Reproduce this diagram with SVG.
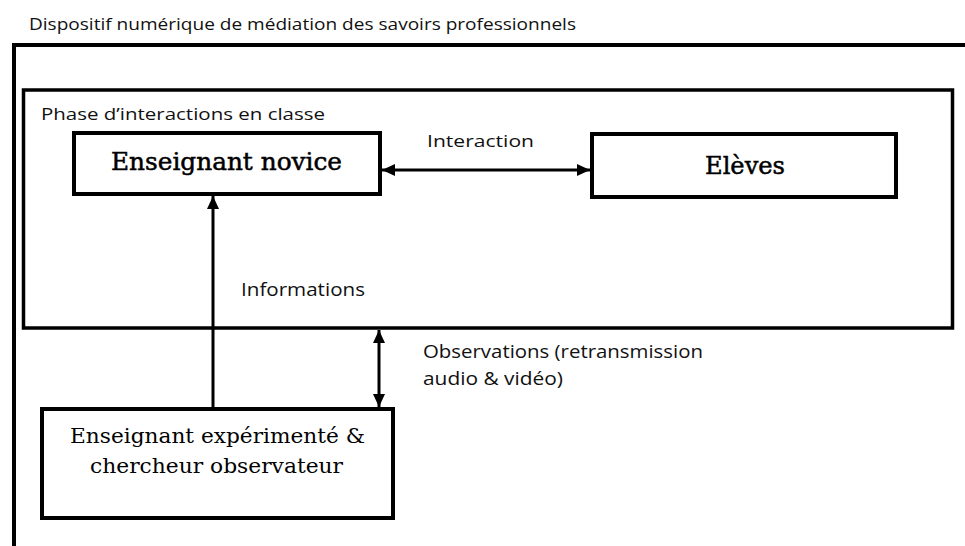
<svg xmlns="http://www.w3.org/2000/svg" width="965" height="546" viewBox="0 0 965 546">
  <style>
    .frame { fill: none; stroke: #000; }
    .box { fill: #fff; stroke: #000; stroke-width: 4; }
    .conn { fill: none; stroke: #000; stroke-width: 3; }
    .sans { font-family: "Open Sans", "Liberation Sans", sans-serif; fill: #111; }
    .serif { font-family: "DejaVu Serif", "Liberation Serif", serif; fill: #000; }
    .heavy { stroke: #000; stroke-width: 0.5; }
  </style>
  <defs>
    <marker id="arrEnd" markerUnits="userSpaceOnUse" markerWidth="14" markerHeight="14" viewBox="0 0 14 14" refX="13" refY="7" orient="auto">
      <path d="M0,1 L13,7 L0,13 Z" fill="#000"/>
    </marker>
    <marker id="arrStart" markerUnits="userSpaceOnUse" markerWidth="14" markerHeight="14" viewBox="0 0 14 14" refX="1" refY="7" orient="auto">
      <path d="M14,1 L1,7 L14,13 Z" fill="#000"/>
    </marker>
  </defs>

  <text class="sans" x="29" y="30" font-size="16" textLength="547" lengthAdjust="spacingAndGlyphs">Dispositif numérique de médiation des savoirs professionnels</text>

  <g id="outer-frame">
    <path class="frame" stroke-width="4" d="M14,546 V45 H965"/>
  </g>

  <g id="phase">
    <rect class="frame" stroke-width="3.5" x="23.5" y="90" width="929" height="238"/>
    <text class="sans" x="41" y="120" font-size="17" textLength="284" lengthAdjust="spacingAndGlyphs">Phase d’interactions en classe</text>
  </g>

  <g id="connectors">
    <line class="conn" x1="382" y1="170" x2="590" y2="170" marker-start="url(#arrStart)" marker-end="url(#arrEnd)"/>
    <line class="conn" x1="213" y1="409" x2="213" y2="196" marker-end="url(#arrEnd)"/>
    <line class="conn" x1="379" y1="330" x2="379" y2="407" marker-start="url(#arrStart)" marker-end="url(#arrEnd)"/>
    <text class="sans" x="427" y="147" font-size="17" textLength="107" lengthAdjust="spacingAndGlyphs">Interaction</text>
    <text class="sans" x="241" y="296" font-size="18" textLength="124" lengthAdjust="spacingAndGlyphs">Informations</text>
    <text class="sans" x="423" y="358" font-size="18" textLength="280" lengthAdjust="spacingAndGlyphs">Observations (retransmission</text>
    <text class="sans" x="423" y="385" font-size="18" textLength="140" lengthAdjust="spacingAndGlyphs">audio &amp; vidéo)</text>
  </g>

  <g id="novice">
    <rect class="box" x="74" y="133" width="306" height="61"/>
    <text class="serif heavy" x="111" y="170" font-size="24" textLength="231" lengthAdjust="spacingAndGlyphs">Enseignant novice</text>
  </g>

  <g id="eleves">
    <rect class="box" x="592" y="134" width="304" height="63"/>
    <text class="serif heavy" x="705" y="174" font-size="24" textLength="80" lengthAdjust="spacingAndGlyphs">Elèves</text>
  </g>

  <g id="expert">
    <rect class="box" x="42" y="409" width="351" height="109"/>
    <text class="serif" x="70" y="443" font-size="20" textLength="295" lengthAdjust="spacingAndGlyphs">Enseignant expérimenté  &amp;</text>
    <text class="serif" x="90" y="473" font-size="20" textLength="253" lengthAdjust="spacingAndGlyphs">chercheur observateur</text>
  </g>
</svg>
